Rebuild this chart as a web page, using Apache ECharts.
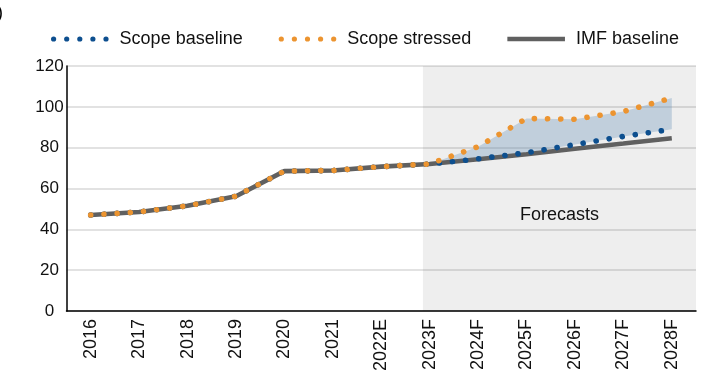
<!DOCTYPE html>
<html>
<head>
<meta charset="utf-8">
<script src="https://cdn.jsdelivr.net/npm/echarts@6/dist/echarts.min.js"></script>
<style>
html,body{margin:0;padding:0;background:#fff;}
#chart{width:706px;height:374px;}
</style>
</head>
<body>
<div id="chart"></div>
<script>
const categories = ['2016','2017','2018','2019','2020','2021','2022E','2023F','2024F','2025F','2026F','2027F','2028F'];
const scopeBaseline = [47, 48.5, 51.5, 56.2, 68.5, 68.8, 70.7, 72, 74.5, 77.5, 81.5, 85.5, 89];
const scopeStressed = [47, 48.5, 51.5, 56.2, 68.5, 68.8, 70.7, 72, 80.5, 94.3, 93.9, 97.7, 104.3];
const imfBaseline   = [47, 48.5, 51.5, 56.2, 68.5, 68.8, 70.7, 72, 74.3, 76.8, 79.5, 82, 84.6];
const yTicks = [0, 20, 40, 60, 80, 100, 120];
const forecastStartIndex = 7;

const bandBase = scopeBaseline.map((v, i) => i >= forecastStartIndex ? v : '-');
const bandDiff = scopeStressed.map((v, i) => i >= forecastStartIndex ? +(v - scopeBaseline[i]).toFixed(2) : '-');

// legend icons: five dots / a thick bar
const dotsIcon = 'path://' + [2.6, 15.7, 28.8, 41.9, 55].map(c =>
  `M${c - 2.6} 2.6a2.6 2.6 0 1 0 5.2 0a2.6 2.6 0 1 0 -5.2 0Z`).join('');
const barIcon = 'path://M0 0.3H57.6V4.9H0Z';

const FONT = 'Liberation Sans, Arial, sans-serif';
const chart = echarts.init(document.getElementById('chart'), null, {renderer: 'canvas'});
chart.setOption({
  animation: false,
  textStyle: {fontFamily: FONT},
  graphic: [{type: 'text', left: -3, top: 4, style: {text: ')', font: '18px ' + FONT, fill: '#000'}}],
  legend: {
    top: 25, left: 46,
    itemWidth: 57.6, itemHeight: 5.2, itemGap: 36,
    data: [
      {name: 'Scope baseline', icon: dotsIcon},
      {name: 'Scope stressed', icon: dotsIcon},
      {name: 'IMF baseline', icon: barIcon}
    ],
    textStyle: {fontSize: 18, color: '#111', fontFamily: FONT, padding: [0, 0, 0, 6]}
  },
  grid: {left: 66.5, right: 10, top: 66, bottom: 62, containLabel: false},
  xAxis: [{
    type: 'category', data: categories, boundaryGap: true,
    axisLine: {lineStyle: {color: '#000', width: 1.5}},
    axisTick: {show: false},
    axisLabel: {rotate: 90, fontSize: 18, color: '#111', margin: 8, interval: 0, fontFamily: FONT}
  }, {
    type: 'value', min: -0.5, max: 12.5, show: false
  }],
  yAxis: {
    type: 'value', min: yTicks[0], max: yTicks[yTicks.length - 1], interval: 20,
    axisLine: {show: true, onZero: false, lineStyle: {color: '#000', width: 1.5}},
    axisTick: {show: false},
    axisLabel: {fontSize: 17, color: '#111', margin: 17, align: 'center', fontFamily: FONT},
    splitLine: {lineStyle: {color: '#d9d9d9', width: 1.5}}
  },
  series: [
    {
      name: 'shade', type: 'line', xAxisIndex: 1, data: [], silent: true,
      markArea: {
        silent: true,
        itemStyle: {color: 'rgba(0,0,0,0.067)'},
        label: {show: true, position: ['50%', '61%'], align: 'center', verticalAlign: 'middle', fontSize: 18, color: '#111', fontFamily: FONT},
        data: [[{name: 'Forecasts', xAxis: 6.86, yAxis: 0}, {xAxis: 12.5, yAxis: 120}]]
      }
    },
    {
      name: 'bandBase', type: 'line', stack: 'band', data: bandBase, symbol: 'none',
      lineStyle: {opacity: 0}, silent: true
    },
    {
      name: 'bandDiff', type: 'line', stack: 'band', data: bandDiff, symbol: 'none',
      lineStyle: {opacity: 0}, areaStyle: {color: 'rgba(110,150,185,0.36)', opacity: 1}, silent: true
    },
    {
      name: 'IMF baseline', type: 'line', data: imfBaseline, symbol: 'none', z: 3,
      lineStyle: {color: '#606060', width: 4.6}, itemStyle: {color: '#606060'}
    },
    {
      name: 'Scope baseline', type: 'line', data: scopeBaseline, symbol: 'none', z: 4,
      lineStyle: {color: '#0d4f8f', width: 5.6, type: [0.1, 13.1], cap: 'round'}, itemStyle: {color: '#0d4f8f'}
    },
    {
      name: 'Scope stressed', type: 'line', data: scopeStressed, symbol: 'none', z: 5,
      lineStyle: {color: '#ec9430', width: 5.6, type: [0.1, 13.1], cap: 'round'}, itemStyle: {color: '#ec9430'}
    }
  ]
});
</script>
</body>
</html>
